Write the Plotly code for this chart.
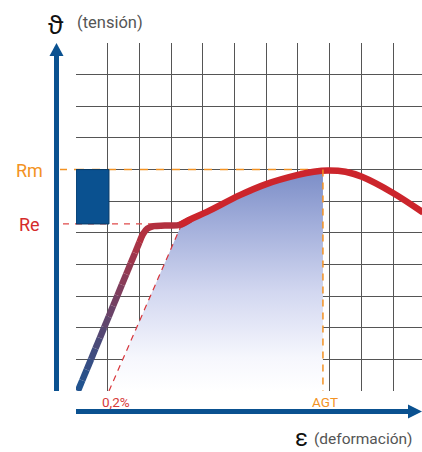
import numpy as np
import plotly.graph_objects as go

# ---- data (grid units) ----
elastic_x = [0.06, 2.0]
elastic_y = [0.0, 4.7]
curve_x = [2.0, 2.12, 2.25, 2.45, 2.8, 3.28, 3.6, 4.13, 5.17, 6.0, 7.0, 7.5, 7.95, 8.5, 9.02, 10.0, 10.95]
curve_y = [4.7, 4.97, 5.13, 5.21, 5.23, 5.25, 5.42, 5.66, 6.19, 6.54, 6.83, 6.93, 6.97, 6.93, 6.77, 6.26, 5.64]
offset_x = [1.04, 3.33]       # 0,2 % parallel line
offset_y = [0.0, 5.26]
RM = 7.0
RE = 5.28
AGT = 7.79
fill_x = [1.04, 3.33, 3.6, 4.13, 5.17, 6.0, 7.0, 7.5, 7.79, 7.79]
fill_y = [0.0, 5.26, 5.42, 5.66, 6.19, 6.54, 6.83, 6.93, 6.96, 0.0]
labels = {"rm": "Rm", "re": "Re", "off": "0,2%", "agt": "AGT",
          "sig": "ϑ", "sig_t": "(tensión)", "eps": "ε", "eps_t": "(deformación)"}

W, H = 422, 452
L, T, B = 76, 43, 61
PW, PH = W - L, H - T - B
def px(x):
    return (x - L) / PW
def py(y):
    return (H - B - y) / PH

BLUE = "#0a5190"
ORANGE = "#f39223"

fig = go.Figure()

# shaded area
fig.add_trace(go.Scatter(
    x=fill_x, y=fill_y, fill="toself", mode="lines", line=dict(width=0),
    fillgradient=dict(type="vertical",
                      colorscale=[[0, "#ffffff"], [0.15, "#f6f7fd"], [0.45, "#d2d7f0"],
                                  [0.75, "#a3afdb"], [1, "#7b8dc7"]]),
    hoverinfo="skip", showlegend=False))

# 0,2% dashed offset line
fig.add_trace(go.Scatter(x=offset_x, y=offset_y, mode="lines",
                         line=dict(color="#d8353a", width=1.2, dash="6px,5px"),
                         showlegend=False, hoverinfo="skip"))

# elastic part with colour gradient blue -> red
c0 = np.array([0x1c, 0x55, 0x92])
c1 = np.array([0xae, 0x33, 0x44])
n = 14
for i in range(n):
    t0, t1 = i / n, (i + 1) / n
    c = (c0 + (c1 - c0) * (t0 + t1) / 2).astype(int)
    fig.add_trace(go.Scatter(
        x=[elastic_x[0] + (elastic_x[1] - elastic_x[0]) * t0,
           elastic_x[0] + (elastic_x[1] - elastic_x[0]) * t1],
        y=[elastic_y[0] + (elastic_y[1] - elastic_y[0]) * t0,
           elastic_y[0] + (elastic_y[1] - elastic_y[0]) * t1],
        mode="lines", line=dict(color="rgb(%d,%d,%d)" % tuple(c), width=6.5),
        showlegend=False, hoverinfo="skip"))

# plastic part
fig.add_trace(go.Scatter(x=curve_x[:7], y=curve_y[:7], mode="lines",
                         line=dict(color="#b3303f", width=6.5, shape="spline"),
                         showlegend=False, hoverinfo="skip"))
fig.add_trace(go.Scatter(x=curve_x[5:], y=curve_y[5:], mode="lines",
                         line=dict(color="#cc252c", width=6.5, shape="spline"),
                         showlegend=False, hoverinfo="skip"))

shapes = []
# Rm / Re dashed lines
shapes.append(dict(type="line", xref="paper", yref="y", x0=px(60), x1=px(76), y0=RM, y1=RM,
                   line=dict(color=ORANGE, width=1.5, dash="7px,7px"), layer="between"))
shapes.append(dict(type="line", xref="x", yref="y", x0=0, x1=7.9, y0=RM, y1=RM,
                   line=dict(color=ORANGE, width=1.5, dash="8px,8px"), layer="between"))
shapes.append(dict(type="line", xref="paper", yref="y", x0=px(63), x1=px(76), y0=RE, y1=RE,
                   line=dict(color="#e04a4a", width=1.2, dash="6px,6px"), layer="between"))
shapes.append(dict(type="line", xref="x", yref="y", x0=0, x1=2.6, y0=RE, y1=RE,
                   line=dict(color="#e04a4a", width=1.2, dash="6px,6px"), layer="between"))
# AGT vertical
shapes.append(dict(type="line", xref="x", yref="y", x0=AGT, x1=AGT, y0=RM, y1=0,
                   line=dict(color=ORANGE, width=1.5, dash="7px,6px"), layer="above"))
# blue box
shapes.append(dict(type="rect", xref="x", yref="y", x0=0, x1=1.04, y0=RE, y1=RM,
                   fillcolor=BLUE, line=dict(color="#083a66", width=1), layer="above"))
# y axis arrow
shapes.append(dict(type="line", xref="paper", yref="paper", x0=px(56.5), x1=px(56.5),
                   y0=py(391), y1=py(54), line=dict(color=BLUE, width=5)))
shapes.append(dict(type="path", xref="paper", yref="paper",
                   path="M %f %f L %f %f L %f %f Z" % (px(56.5), py(43), px(49.5), py(56), px(63.5), py(56)),
                   fillcolor=BLUE, line=dict(width=0)))
# x axis arrow
shapes.append(dict(type="line", xref="paper", yref="paper", x0=px(76), x1=px(410),
                   y0=py(411.5), y1=py(411.5), line=dict(color=BLUE, width=5)))
shapes.append(dict(type="path", xref="paper", yref="paper",
                   path="M %f %f L %f %f L %f %f Z" % (px(422), py(411.5), px(408), py(404.5), px(408), py(418.5)),
                   fillcolor=BLUE, line=dict(width=0)))

ann = []
def txt(t, x, y, size, color, xanchor="center", family="Roboto"):
    ann.append(dict(text=t, xref="paper", yref="paper", x=px(x), y=py(y), showarrow=False,
                    xanchor=xanchor, yanchor="middle", font=dict(size=size, color=color, family=family)))
txt(labels["sig"], 56, 24, 25, "#111", family="Noto Sans")
txt(labels["sig_t"], 75, 22, 16.5, "#555", "left")
txt(labels["rm"], 29, 170, 18, ORANGE)
txt(labels["re"], 29, 224, 18, "#d52b2b")
txt(labels["off"], 116, 402, 13.5, "#d63a3a")
txt(labels["agt"], 325, 402, 13.5, ORANGE)
txt(labels["eps"], 301, 438, 24, "#111")
txt(labels["eps_t"], 312, 439, 15.5, "#555", "left")

fig.update_layout(
    width=W, height=H, margin=dict(l=L, r=0, t=T, b=B),
    paper_bgcolor="white", plot_bgcolor="white",
    shapes=shapes, annotations=ann, showlegend=False,
    xaxis=dict(range=[0, PW / 31.7], tickvals=list(range(0, 11)), showticklabels=False,
               showgrid=True, gridcolor="#555", gridwidth=1.2, zeroline=False, showline=False, ticks=""),
    yaxis=dict(range=[0, 11], tickvals=list(range(1, 12)), showticklabels=False,
               showgrid=True, gridcolor="#555", gridwidth=1.2, zeroline=False, showline=False, ticks=""),
)
fig.write_html("out.html", config={"displayModeBar": False},
               post_script="document.body.style.margin='0';")
